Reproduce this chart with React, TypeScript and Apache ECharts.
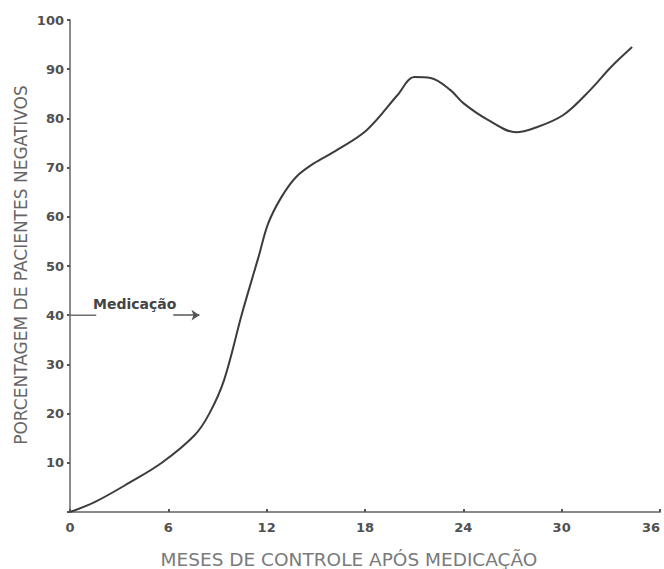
import React, { useEffect, useRef } from "react";
import * as echarts from "echarts";

const months = [0, 1.5, 3.6, 5.6, 7.6, 8.5, 9.4, 10.5, 11.5, 12.1, 12.9, 13.8, 14.9, 16.1, 18.1, 20.0, 21.0, 22.0, 23.2, 24.0, 25.5, 27.2, 28.3, 30.1, 31.75, 33.0, 34.3];
const percent = [0, 2, 5.9, 10, 15.6, 20, 26.8, 40.4, 51.8, 58.7, 64, 68.1, 70.9, 73.2, 77.6, 84.8, 88.4, 88.2, 85.8, 83.1, 79.7, 77.2, 78, 80.7, 85.8, 90.4, 94.5];

const medicationStart = 0;
const medicationEnd = 7.9;
const medicationLevel = 40;
const medicationLabel = "Medicação";

const xTicks = [0, 6, 12, 18, 24, 30, 36];
const yMax = 100;
const yInterval = 10;

const xTitle = "MESES DE CONTROLE APÓS MEDICAÇÃO";
const yTitle = "PORCENTAGEM DE PACIENTES NEGATIVOS";

export default function App() {
  const ref = useRef<HTMLDivElement>(null);
  useEffect(() => {
    if (!ref.current) return;
    const chart = echarts.init(ref.current, null, { renderer: "svg" });
    const gray = "#505050";
    const font = "DejaVu Sans";
    chart.setOption({
      animation: false,
      backgroundColor: "#ffffff",
      grid: {
        left: 70,
        right: 4,
        top: 20,
        bottom: 57,
        containLabel: false,
        outerBoundsMode: "none",
      },
      xAxis: {
        type: "value",
        min: xTicks[0],
        max: xTicks[xTicks.length - 1],
        interval: 6,
        axisLine: { lineStyle: { color: "#8a8a8a", width: 2 } },
        axisTick: { show: true, inside: true, length: 3, lineStyle: { color: "#555", width: 2 } },
        axisLabel: {
          color: gray,
          fontFamily: font,
          fontSize: 13,
          fontWeight: "bold",
          margin: 9,
          alignMaxLabel: "right",
        },
        splitLine: { show: false },
      },
      yAxis: {
        type: "value",
        min: 0,
        max: yMax,
        interval: yInterval,
        axisLine: { show: true, lineStyle: { color: "#8a8a8a", width: 2 } },
        axisTick: { show: true, inside: false, length: 3, lineStyle: { color: "#555", width: 2 } },
        axisLabel: {
          color: gray,
          fontFamily: font,
          fontSize: 13,
          fontWeight: "bold",
          margin: 6,
          formatter: (v: number) => (v === 0 ? "" : String(v)),
        },
        splitLine: { show: false },
      },
      series: [
        {
          type: "line",
          data: months.map((m, i) => [m, percent[i]]),
          smooth: 0.35,
          symbol: "none",
          lineStyle: { color: "#3c3c3c", width: 2 },
        },
        {
          type: "line",
          data: [
            [medicationStart - 0.6, medicationLevel],
            [medicationStart + 1.6, medicationLevel],
          ],
          symbol: "none",
          lineStyle: { color: "#707070", width: 1.5 },
          markLine: {
            silent: true,
            symbol: ["none", "arrow"],
            symbolSize: 8,
            label: { show: false },
            lineStyle: { color: "#555", width: 1.5, type: "solid" },
            data: [
              [
                { coord: [medicationEnd - 1.6, medicationLevel] },
                { coord: [medicationEnd, medicationLevel] },
              ],
            ],
          },
        },
      ],
      graphic: [
        {
          type: "text",
          x: 93,
          y: 304,
          style: {
            text: medicationLabel,
            fill: "#444444",
            font: `bold 14px "${font}"`,
            textVerticalAlign: "middle",
          },
        },
        {
          type: "text",
          x: 349,
          y: 559,
          style: {
            text: xTitle,
            fill: "#7a7a7a",
            font: `18.5px "${font}"`,
            textAlign: "center",
            textVerticalAlign: "middle",
          },
        },
        {
          type: "text",
          x: 21,
          y: 265,
          rotation: Math.PI / 2,
          style: {
            text: yTitle,
            fill: "#666666",
            font: `17px "${font}"`,
            textAlign: "center",
            textVerticalAlign: "middle",
          },
        },
      ],
    });
    return () => chart.dispose();
  }, []);
  return (
    <div
      ref={ref}
      style={{ position: "fixed", left: 0, top: 0, width: 664, height: 569 }}
    />
  );
}
